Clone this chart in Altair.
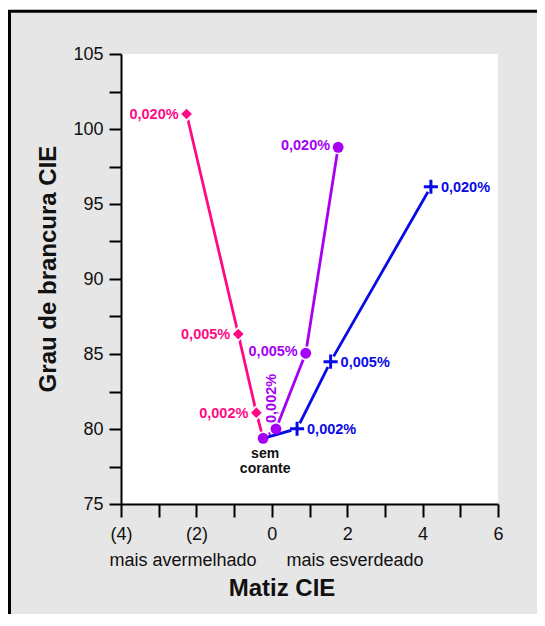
import altair as alt
import pandas as pd

# ---- data ----
series_names = ["pink", "purple", "blue"]
series_colors = ["#FF0A84", "#A600F5", "#0A0AE6"]
conc_labels = ["sem corante", "0,002%", "0,005%", "0,020%"]

# Matiz CIE (hue) and Grau de brancura CIE (whiteness); order: sem corante, 0,002%, 0,005%, 0,020%
pink_hue = [-0.23, -0.41, -0.89, -2.26]
pink_white = [79.38, 81.09, 86.33, 101.0]
purple_hue = [-0.23, 0.11, 0.90, 1.76]
purple_white = [79.38, 80.0, 85.05, 98.78]
blue_hue = [-0.23, 0.67, 1.56, 4.22]
blue_white = [79.38, 80.02, 84.49, 96.15]

x_ticks = [-4, -3, -2, -1, 0, 1, 2, 3, 4, 5, 6]
y_ticks = [75, 77.5, 80, 82.5, 85, 87.5, 90, 92.5, 95, 97.5, 100, 102.5, 105]
side_labels = ["mais avermelhado", "mais esverdeado"]
x_title = "Matiz CIE"
y_title = "Grau de brancura CIE"

rows = []
for s, hs, ws in [("pink", pink_hue, pink_white), ("purple", purple_hue, purple_white),
                  ("blue", blue_hue, blue_white)]:
    for i, (h, w) in enumerate(zip(hs, ws)):
        rows.append({"series": s, "idx": i, "conc": conc_labels[i], "hue": h, "white": w})
df = pd.DataFrame(rows)

W, H = 377, 450
PINK, PURPLE, BLUE = series_colors
LABEL_FONT = "Liberation Sans, Arial, sans-serif"
FONT = "Liberation Sans, Arial, sans-serif"

x_enc = alt.X("hue:Q", scale=alt.Scale(domain=[-4, 6], nice=False, zero=False),
              axis=alt.Axis(values=x_ticks, title=None, grid=False, zindex=1,
                            labelExpr="datum.value % 2 == 0 ? (datum.value < 0 ? '(' + (-datum.value) + ')' : '' + datum.value) : ''",
                            labelFlush=False, labelOverlap=False, tickSize=13, tickWidth=2,
                            domainWidth=2, domainColor="black", tickColor="black",
                            labelFont=FONT, labelFontSize=18, labelColor="#111111",
                            labelPadding=8))
y_enc = alt.Y("white:Q", scale=alt.Scale(domain=[75, 105], nice=False, zero=False),
              axis=alt.Axis(values=y_ticks, title=None, grid=False, zindex=1,
                            labelExpr="datum.value % 5 == 0 ? '' + datum.value : ''",
                            labelFlush=False, labelOverlap=False, tickSize=12, tickWidth=2,
                            domainWidth=2, domainColor="black", tickColor="black",
                            labelFont=FONT, labelFontSize=18, labelColor="#111111",
                            labelPadding=6))
color_enc = alt.Color("series:N", scale=alt.Scale(domain=series_names, range=series_colors),
                      legend=None)

one = pd.DataFrame({"a": [0]})

frame = alt.Chart(one).mark_rect(fill="#E6E6E6", stroke="black", strokeWidth=3).encode(
    x=alt.value(-111.5), x2=alt.value(W + 80), y=alt.value(-42.7), y2=alt.value(H + 200))
plot_bg = alt.Chart(one).mark_rect(fill="white").encode(
    x=alt.value(0), x2=alt.value(W), y=alt.value(0), y2=alt.value(H))

df_pp = df[df.series != "blue"]
lines_pp = alt.Chart(df_pp).mark_line(strokeWidth=2.8).encode(
    x=x_enc, y=y_enc, color=color_enc, order="idx:Q", detail="series:N")

halo_pink = alt.Chart(df[(df.series == "pink") & (df.idx > 0)]).mark_point(
    shape="diamond", filled=True, fill="white", opacity=1, size=240, strokeWidth=0).encode(x=x_enc, y=y_enc)
halo_purple = alt.Chart(df[df.series == "purple"]).mark_point(
    shape="circle", filled=True, fill="white", opacity=1, size=200, strokeWidth=0).encode(x=x_enc, y=y_enc)

lines_blue = alt.Chart(df[df.series == "blue"]).mark_line(strokeWidth=2.8, color=BLUE).encode(
    x=x_enc, y=y_enc, order="idx:Q")
halo_blue = alt.Chart(df[(df.series == "blue") & (df.idx > 0)]).mark_point(
    shape="circle", filled=True, fill="white", opacity=1, size=150, strokeWidth=0).encode(x=x_enc, y=y_enc)

pts_pink = alt.Chart(df[(df.series == "pink") & (df.idx > 0)]).mark_point(
    shape="diamond", filled=True, color=PINK, opacity=1, size=115, strokeWidth=0).encode(x=x_enc, y=y_enc)
pts_purple = alt.Chart(df[df.series == "purple"]).mark_point(
    shape="circle", filled=True, color=PURPLE, opacity=1, size=118, strokeWidth=0).encode(x=x_enc, y=y_enc)
pts_blue = alt.Chart(df[(df.series == "blue") & (df.idx > 0)]).mark_point(
    shape="M-1,0L1,0M0,-1L0,1", filled=False, color=BLUE, opacity=1, size=200,
    strokeWidth=3).encode(x=x_enc, y=y_enc)

lab_kw = dict(font=LABEL_FONT, fontWeight="bold", fontSize=14.5, baseline="middle")
lab_pink = alt.Chart(df[(df.series == "pink") & (df.idx > 0)]).mark_text(
    align="right", dx=-8, dy=1, color=PINK, **lab_kw).encode(x=x_enc, y=y_enc, text="conc:N")
lab_purple = alt.Chart(df[(df.series == "purple") & (df.idx > 1)]).mark_text(
    align="right", dx=-8, dy=-1, color=PURPLE, **lab_kw).encode(x=x_enc, y=y_enc, text="conc:N")
lab_purple_rot = alt.Chart(df[(df.series == "purple") & (df.idx == 1)]).mark_text(
    align="left", angle=270, dx=6, dy=-4, color=PURPLE, **lab_kw).encode(x=x_enc, y=y_enc, text="conc:N")
lab_blue = alt.Chart(df[(df.series == "blue") & (df.idx > 0)]).mark_text(
    align="left", dx=10, dy=1.5, color=BLUE, **lab_kw).encode(x=x_enc, y=y_enc, text="conc:N")
lab_sem = alt.Chart(df[(df.series == "purple") & (df.idx == 0)]).mark_text(
    align="center", baseline="alphabetic", dx=2, dy=20, lineBreak=" ", lineHeight=15,
    font=FONT, fontWeight="bold", fontSize=14, color="#111111").encode(x=x_enc, y=y_enc, text="conc:N")

side_left = alt.Chart(one).mark_text(font=FONT, fontSize=18, color="#111111", align="center",
                                     baseline="alphabetic").encode(
    x=alt.value(62), y=alt.value(512), text=alt.value(side_labels[0]))
side_right = alt.Chart(one).mark_text(font=FONT, fontSize=18, color="#111111", align="center",
                                      baseline="alphabetic").encode(
    x=alt.value(234), y=alt.value(512), text=alt.value(side_labels[1]))
xt = alt.Chart(one).mark_text(font=FONT, fontSize=24, fontWeight="bold", color="#111111",
                              align="center", baseline="alphabetic").encode(
    x=alt.value(161), y=alt.value(542), text=alt.value(x_title))
yt = alt.Chart(one).mark_text(font=FONT, fontSize=24, fontWeight="bold", color="#111111",
                              align="center", baseline="middle", angle=270).encode(
    x=alt.value(-72), y=alt.value(215), text=alt.value(y_title))

chart = alt.layer(
    frame, plot_bg, lines_pp, halo_pink, halo_purple, lines_blue, halo_blue,
    pts_pink, pts_purple, pts_blue,
    lab_pink, lab_purple, lab_purple_rot, lab_blue, lab_sem,
    side_left, side_right, xt, yt,
).properties(
    width=W, height=H,
    padding={"left": 113, "top": 46, "right": 39, "bottom": 110},
    autosize=alt.AutoSizeParams(type="none"),
    background="white",
).configure_view(stroke="transparent")

chart.save("out.html", embed_options={"renderer": "svg", "actions": False})
